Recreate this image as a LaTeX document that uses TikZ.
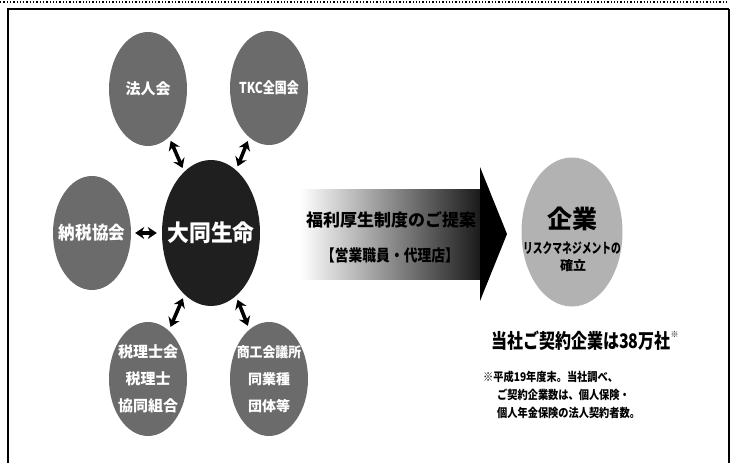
\documentclass[tikz,border=0pt]{standalone}
\usepackage{fontspec}
\setmainfont{Noto Sans CJK JP}
\usepackage{graphicx}
\usetikzlibrary{shapes.geometric, arrows.meta}

\newcommand{\narrow}[2][0.8]{\scalebox{#1}[1]{#2}}

\begin{document}
\begin{tikzpicture}[x=1pt, y=-1pt,
    group/.style={ellipse, fill=black!58, inner sep=0pt, minimum width=78pt, minimum height=114pt},
    hub/.style={ellipse, fill=black!88, inner sep=0pt, minimum width=98pt, minimum height=146pt},
    goal/.style={ellipse, fill=black!30, inner sep=0pt, minimum width=101pt, minimum height=149pt},
    grouptext/.style={inner sep=0pt, text=white, align=center, font=\bfseries\fontsize{15}{27}\selectfont},
    link/.style={<->, >={Stealth[length=9pt, width=12pt]}, line width=3.6pt,
      shorten >=4pt, shorten <=4pt},
    label/.style={inner sep=0pt, font=\bfseries}]
  \useasboundingbox (0,0) rectangle (737,463);

  % frame
  \draw[dotted, line width=1.3pt] (0,2) -- (728,2);
  \draw[line width=1.2pt] (8,463) |- (729,9);
  \draw[line width=2pt] (729,9) -- (729,463);

  % partners
  \node[hub] (daido) at (211,233) {};
  \node[group] (hojin) at (148,89) {};
  \node[group] (tkc) at (269,88) {};
  \node[group] (nozei) at (92,233) {};
  \node[group] (zeirishi) at (148,379) {};
  \node[group] (shoko) at (269,379) {};

  \node[grouptext, font=\bfseries\fontsize{23}{26}\selectfont] (daidotext) at (daido) {\narrow[0.95]{大同生命}};
  \node[grouptext] (hojintext) at (hojin) {法人会};
  \node[grouptext, font=\bfseries\fontsize{15}{18}\selectfont] (tkctext) at (tkc) {\narrow[0.8]{TKC全国会}};
  \node[grouptext, font=\bfseries\fontsize{18}{20}\selectfont] (nozeitext) at (nozei) {\narrow[0.92]{納税協会}};
  \node[grouptext] (zeirishitext) at (zeirishi) {税理士会\\税理士\\協同組合};
  \node[grouptext, font=\bfseries\fontsize{14}{27}\selectfont] (shokotext) at (shoko) {\narrow[0.92]{商工会議所}\\同業種\\団体等};

  \draw[link] (hojin) -- (daido);
  \draw[link] (tkc) -- (daido);
  \draw[link, shorten >=5pt, shorten <=4pt] (nozei) -- (daido);
  \draw[link] (zeirishi) -- (daido);
  \draw[link] (shoko) -- (daido);

  % proposal arrow
  \shade[left color=white, middle color=black!30, right color=black!90] (300,189) rectangle (481,279);
  \fill[black] (480,167) -- (507,234) -- (480,301) -- cycle;
  \node[label, font=\bfseries\fontsize{17}{20}\selectfont] (teian) at (391,220) {福利厚生制度のご提案};
  \node[label, font=\bfseries\fontsize{16}{18}\selectfont] (eigyo) at (390,255) {\narrow[0.86]{【営業職員・代理店】}};

  % client companies
  \node[goal] (kigyo) at (572,232) {};
  \node[label, font=\bfseries\fontsize{25}{28}\selectfont] (kigyo1) at (572,219) {企業};
  \node[label, font=\bfseries\fontsize{14}{16}\selectfont] (kigyo2) at (572,248) {\narrow[0.7]{リスクマネジメントの}};
  \node[label, font=\bfseries\fontsize{13}{16}\selectfont] (kigyo3) at (573,266) {確立};

  \node[label, anchor=west, font=\bfseries\fontsize{20}{22}\selectfont] (keiyaku) at (491,341)
    {\narrow{当社ご契約企業は38万社}\raisebox{0.55em}{\fontsize{8}{8}\selectfont ※}};
  \node[label, anchor=west, font=\bfseries\fontsize{12}{14}\selectfont] (note1) at (483,377) {\narrow[0.85]{※平成19年度末。当社調べ、}};
  \node[label, anchor=west, font=\bfseries\fontsize{12}{14}\selectfont] (note2) at (497,395) {\narrow[0.85]{ご契約企業数は、個人保険・}};
  \node[label, anchor=west, font=\bfseries\fontsize{12}{14}\selectfont] (note3) at (497,413) {\narrow[0.85]{個人年金保険の法人契約者数。}};
\end{tikzpicture}
\end{document}
